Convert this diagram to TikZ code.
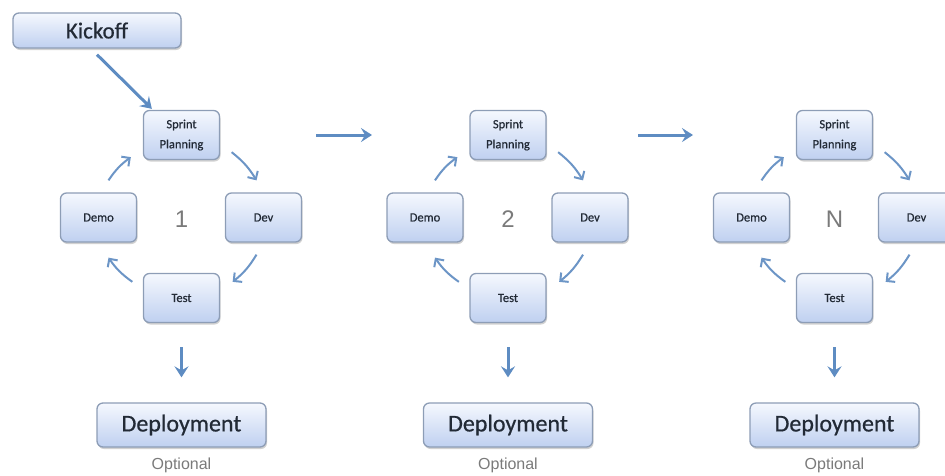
\documentclass[tikz,border=0pt]{standalone}
\usepackage{fontspec}
\setmainfont{Carlito}
\newfontfamily\calh{Carlito}[FakeBold=0.6]
\newfontfamily\arialfont{Liberation Sans}
\usetikzlibrary{arrows.meta,shadows,calc}
\definecolor{boxline}{HTML}{8D9DB6}
\definecolor{boxtop}{HTML}{F5F8FE}
\definecolor{boxbot}{HTML}{BFD0F0}
\definecolor{arrowc}{HTML}{5E8CC2}
\definecolor{thinarrow}{HTML}{6C95C6}
\definecolor{txtc}{HTML}{222A36}
\definecolor{numc}{HTML}{7A7A7A}
\tikzset{
  boxbase/.style={draw=boxline, line width=1.3pt, rounded corners=6pt,
    top color=boxtop, bottom color=boxbot, text=txtc, inner sep=0pt,
    drop shadow={shadow xshift=1pt, shadow yshift=-2pt, opacity=0.3, fill=black!60}},
  smallbox/.style={boxbase, minimum width=76pt, minimum height=49pt,
    font=\calh\fontsize{12.5}{20}\selectfont, align=center},
  bigbox/.style={boxbase, minimum width=169pt, minimum height=44pt,
    font=\calh\fontsize{24}{28}\selectfont},
  kickbox/.style={boxbase, minimum width=168pt, minimum height=35pt,
    font=\calh\fontsize{23}{26}\selectfont},
  cyclearrow/.style={draw=thinarrow, line width=2pt, bend left=10,
    -{Straight Barb[length=6pt,width=12pt,line width=2pt]}},
  thickarrow/.style={draw=arrowc, line width=3pt,
    -{Stealth[length=11pt,width=14pt,inset=4pt]}},
  numlabel/.style={text=numc, font=\arialfont\fontsize{24}{28}\selectfont},
  optlabel/.style={text=numc, font=\arialfont\fontsize{16}{20}\selectfont},
}
\begin{document}
\begin{tikzpicture}[x=1pt,y=-1pt]
\useasboundingbox (0,0) rectangle (945,475);
\clip (0,0) rectangle (945,475);
\node[kickbox] (kick) at (97,30.5) {Kickoff};
\foreach \i/\cx/\lab in {1/181.5/1, 2/508/2, 3/834.5/N}{
  \node[smallbox] (sp\i) at (\cx,135) {Sprint\\Planning};
  \node[smallbox] (de\i) at (\cx-83,217.5) {Demo};
  \node[smallbox] (dv\i) at (\cx+82,217.5) {Dev};
  \node[smallbox] (te\i) at (\cx,298) {Test};
  \node[numlabel] (n\i) at (\cx,219) {\lab};
  \node[bigbox] (dp\i) at (\cx,425) {Deployment};
  \node[optlabel] (op\i) at (\cx,465) {Optional};
  \draw[cyclearrow] ($(de\i.north)+(10,-12)$) to ($(sp\i.south west)+(-12,-3)$);
  \draw[cyclearrow] ($(sp\i.south east)+(11.5,-8)$) to ($(dv\i.north)+(-7,-12)$);
  \draw[cyclearrow] ($(dv\i.south)+(-7,12)$) to ($(te\i.north east)+(12.5,9)$);
  \draw[cyclearrow] ($(te\i.north west)+(-10.5,9)$) to ($(de\i.south)+(10,15)$);
  \draw[thickarrow] ($(te\i.south)+(0,24)$) -- ($(dp\i.north)+(0,-25)$);
}
\draw[thickarrow] ($(kick.south)+(0,6)$) -- ($(sp1.north west)+(9,-1)$);
\coordinate (g1s) at (316,135);
\coordinate (g1e) at (372,135);
\coordinate (g2s) at (638,135);
\coordinate (g2e) at (693,135);
\draw[thickarrow] (g1s) -- (g1e);
\draw[thickarrow] (g2s) -- (g2e);
\end{tikzpicture}
\end{document}
